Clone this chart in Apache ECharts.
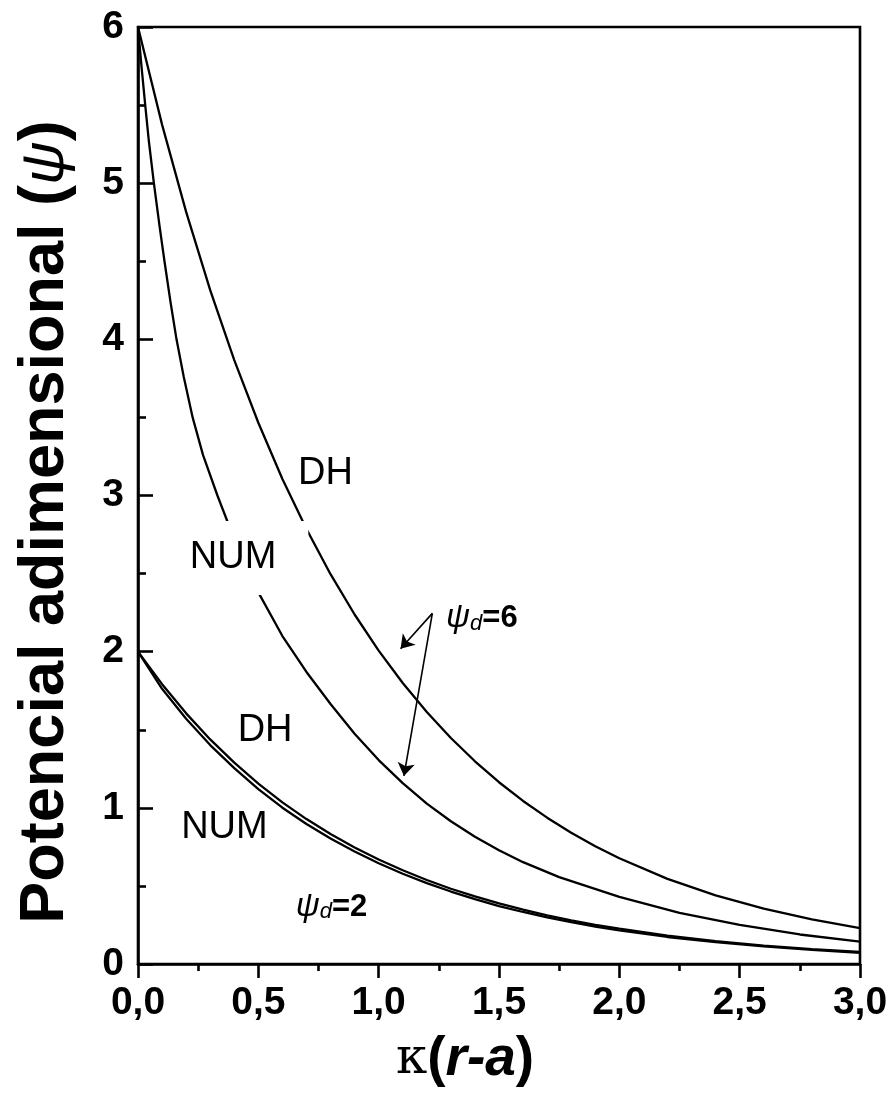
<!DOCTYPE html>
<html>
<head>
<meta charset="utf-8">
<script src="https://cdn.jsdelivr.net/npm/echarts@6/dist/echarts.min.js"></script>
<style>
  html, body { margin: 0; padding: 0; background: #fff; }
  #chart { width: 894px; height: 1106px; }
</style>
</head>
<body>
<div id="chart"></div>
<script>
// Dimensionless potential psi versus kappa(r-a)
// DH = Debye-Hückel approximation, NUM = numerical solution

// psi_d = 6, Debye-Hückel
const xDH = [0, 0.1, 0.2, 0.3, 0.4, 0.5, 0.6, 0.7, 0.8, 0.9, 1.0, 1.1, 1.2, 1.3, 1.4, 1.5,
             1.6, 1.7, 1.8, 1.9, 2.0, 2.2, 2.4, 2.6, 2.8, 3.0];
const dh6 = [6.0, 5.375, 4.816, 4.315, 3.867, 3.466, 3.106, 2.785, 2.496, 2.238, 2.007, 1.799,
             1.614, 1.447, 1.298, 1.164, 1.044, 0.937, 0.840, 0.754, 0.677, 0.545, 0.439,
             0.354, 0.285, 0.230];

// psi_d = 6, numerical
const xNum6 = [0, 0.015, 0.03, 0.045, 0.066, 0.09, 0.11, 0.135, 0.16, 0.19, 0.227, 0.27, 0.33,
               0.4, 0.5, 0.6, 0.7, 0.8, 0.9, 1.0, 1.1, 1.2, 1.3, 1.4, 1.5, 1.6, 1.75, 2.0,
               2.25, 2.5, 2.75, 3.0];
const num6 = [6.0, 5.74, 5.5, 5.27, 5.0, 4.72, 4.5, 4.24, 4.0, 3.76, 3.5, 3.26, 3.0,
              2.72, 2.38, 2.10, 1.87, 1.665, 1.475, 1.306, 1.158, 1.027, 0.914, 0.815, 0.728,
              0.652, 0.556, 0.43, 0.328, 0.250, 0.189, 0.143];

// psi_d = 2, Debye-Hückel
const dh2 = [2.0, 1.792, 1.605, 1.438, 1.289, 1.155, 1.035, 0.928, 0.832, 0.746, 0.669, 0.600,
             0.538, 0.482, 0.433, 0.388, 0.348, 0.312, 0.280, 0.251, 0.226, 0.182, 0.146,
             0.118, 0.095, 0.077];

// psi_d = 2, numerical
const num2 = [2.0, 1.762, 1.570, 1.402, 1.254, 1.120, 1.001, 0.896, 0.803, 0.720, 0.645, 0.578,
              0.518, 0.464, 0.416, 0.371, 0.333, 0.299, 0.268, 0.240, 0.215, 0.173, 0.140,
              0.113, 0.090, 0.072];

const xTicks = { min: 0, max: 3, interval: 0.5 };
const yTicks = { min: 0, max: 6, interval: 1 };

function pairs(xs, ys) { return xs.map((x, i) => [x, ys[i]]); }

const chart = echarts.init(document.getElementById('chart'), null, { renderer: 'canvas' });

const FONT = '"Liberation Sans", Arial, Helvetica, sans-serif';
const lineStyle = { color: '#000', width: 2.3 };

function curve(name, data) {
  return {
    name, type: 'line', data, showSymbol: false, symbol: 'none',
    smooth: false,
    lineStyle, itemStyle: { color: '#000' }, silent: true, z: 2
  };
}

const series = [
  curve('DH ψd=6', pairs(xDH, dh6)),
  curve('NUM ψd=6', pairs(xNum6, num6)),
  curve('DH ψd=2', pairs(xDH, dh2)),
  curve('NUM ψd=2', pairs(xDH, num2))
];

// arrows pointing from the psi_d = 6 label to both curves
const arrowFrom = [1.223, 2.245];
const arrowTips = [[1.091, 2.019], [1.105, 1.204]];
series[0].markLine = {
  silent: true,
  symbol: ['none', 'arrow'],
  symbolSize: 13,
  label: { show: false },
  lineStyle: { color: '#000', width: 1.6, type: 'solid' },
  emphasis: { disabled: true },
  animation: false,
  data: arrowTips.map(t => [{ coord: arrowFrom }, { coord: t }])
};

chart.setOption({
  animation: false,
  backgroundColor: '#fff',
  grid: {
    left: 138, right: 34, top: 27, bottom: 142,
    show: true, borderColor: '#000', borderWidth: 2.6, backgroundColor: 'transparent'
  },
  xAxis: {
    type: 'value', min: xTicks.min, max: xTicks.max, interval: xTicks.interval,
    axisLine: { show: true, onZero: false, lineStyle: { color: '#000', width: 2.6 } },
    axisTick: { show: true, inside: false, length: 14, lineStyle: { color: '#000', width: 2.6 } },
    minorTick: { show: true, splitNumber: 2, length: 7, lineStyle: { color: '#000', width: 2.6 } },
    splitLine: { show: false },
    axisLabel: {
      margin: 20, color: '#000', fontFamily: FONT, fontWeight: 'bold', fontSize: 39,
      formatter: v => v.toFixed(1).replace('.', ',')
    }
  },
  yAxis: {
    type: 'value', min: yTicks.min, max: yTicks.max, interval: yTicks.interval,
    axisLine: { show: true, onZero: false, lineStyle: { color: '#000', width: 2.6 } },
    axisTick: { show: true, inside: true, length: 15, lineStyle: { color: '#000', width: 2.6 } },
    minorTick: { show: true, splitNumber: 2, length: 8, lineStyle: { color: '#000', width: 2.6 } },
    splitLine: { show: false },
    axisLabel: {
      margin: 14, color: '#000', fontFamily: FONT, fontWeight: 'bold', fontSize: 39,
      formatter: v => String(v)
    }
  },
  series
});

// text annotations, anchored in data coordinates
const plainLabels = [
  { text: 'DH',  at: [0.779, 3.143] },
  { text: 'DH',  at: [0.528, 1.498] },
  { text: 'NUM', at: [0.359, 0.877] }
];
const boxedLabels = [
  { text: 'NUM', at: [0.395, 2.60] }
];
const psiLabels = [
  { value: '6', at: [1.28, 2.245] },
  { value: '2', at: [0.655, 0.397] }
];

function px(p) { return chart.convertToPixel({ gridIndex: 0 }, p); }

const graphics = [];
plainLabels.forEach(l => {
  const [x, y] = px(l.at);
  graphics.push({
    type: 'text', x, y, z: 100, silent: true,
    style: { text: l.text, fill: '#000', font: '38px ' + FONT, align: 'center', verticalAlign: 'middle' }
  });
});
boxedLabels.forEach(l => {
  const [x, y] = px(l.at);
  graphics.push({
    type: 'text', x, y, z: 100, silent: true,
    style: {
      text: l.text, fill: '#000', font: '38px ' + FONT, align: 'center', verticalAlign: 'middle',
      backgroundColor: '#fff', padding: [18, 32, 18, 32]
    }
  });
});
psiLabels.forEach(l => {
  const [x, y] = px(l.at);
  graphics.push({
    type: 'text', x, y, z: 100, silent: true,
    style: {
      text: '{psi|ψ}{sub|d}{eq|=' + l.value + '}',
      align: 'left', verticalAlign: 'middle',
      rich: {
        psi: { fontFamily: FONT, fontStyle: 'italic', fontSize: 33, fill: '#000', color: '#000', verticalAlign: 'bottom', lineHeight: 36 },
        sub: { fontFamily: FONT, fontStyle: 'italic', fontSize: 22, fill: '#000', color: '#000', verticalAlign: 'bottom', lineHeight: 22 },
        eq: { fontFamily: FONT, fontWeight: 'bold', fontSize: 31, fill: '#000', color: '#000', verticalAlign: 'bottom', lineHeight: 42 }
      }
    }
  });
});

// axis titles
graphics.push({
  type: 'text', x: 465, y: 1060, z: 100, silent: true,
  style: {
    text: '{k|κ}{b|(}{i|r-a}{b|)}',
    align: 'center', verticalAlign: 'middle',
    rich: {
      k: { fontFamily: '"DejaVu Serif", serif', fontSize: 50, fill: '#000', color: '#000' },
      b: { fontFamily: FONT, fontWeight: 'bold', fontSize: 55, fill: '#000', color: '#000' },
      i: { fontFamily: FONT, fontWeight: 'bold', fontStyle: 'italic', fontSize: 55, fill: '#000', color: '#000' }
    }
  }
});
graphics.push({
  type: 'text', x: 46, y: 522, rotation: Math.PI / 2, z: 100, silent: true,
  style: {
    text: '{b|Potencial adimensional (}{i|ψ}{b|)}',
    align: 'center', verticalAlign: 'middle',
    rich: {
      b: { fontFamily: FONT, fontWeight: 'bold', fontSize: 63, fill: '#000', color: '#000' },
      i: { fontFamily: FONT, fontStyle: 'italic', fontSize: 60, fill: '#000', color: '#000' }
    }
  }
});

chart.setOption({ graphic: { elements: graphics } });
</script>
</body>
</html>
